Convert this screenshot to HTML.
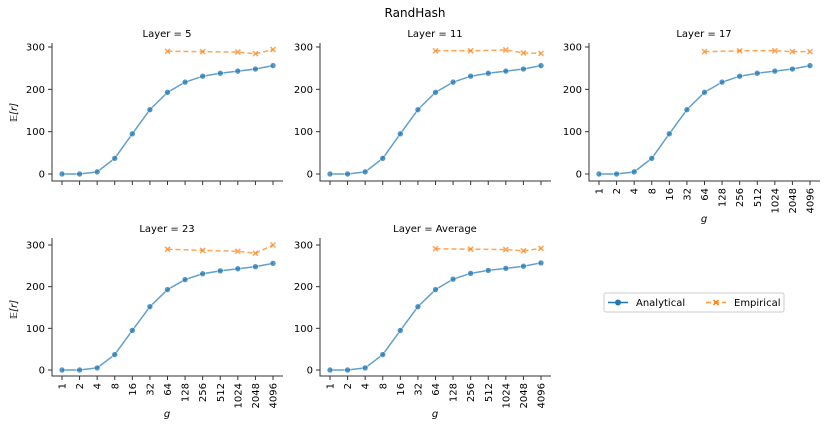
<!DOCTYPE html>
<html><head><meta charset="utf-8"><style>
body{margin:0;background:#fff}
svg{display:block;font-family:"DejaVu Sans","Liberation Sans",sans-serif}
</style></head><body>
<svg id="c" width="831" height="434"></svg>
<script>
const categories=["1","2","4","8","16","32","64","128","256","512","1024","2048","4096"];
const panelTitles=["Layer = 5","Layer = 11","Layer = 17","Layer = 23","Layer = Average"];
const analytical=[
[0,0,5,37,95,152,193,217,231,238,243,248,256],
[0,0,5,37,95,152,193,217,231,238,243,248,256],
[0,0,5,37,95,152,193,217,231,238,243,248,256],
[0,0,5,37,95,152,193,217,231,238,243,248,256],
[0,0,5,37,95,152,193,218,232,239,244,249,257]];
const empiricalIdx=[6,8,10,11,12];
const empirical=[
[290,289,288,284,294],
[291,291,293,286,285],
[289,291,291,289,289],
[290,287,285,280,300],
[291,290,289,286,292]];
const yTicks=[0,100,200,300];
const svg=document.getElementById('c');
const NS='http://www.w3.org/2000/svg';
function mk(t,a,txt){const e=document.createElementNS(NS,t);for(const k in a)e.setAttribute(k,a[k]);if(txt!==undefined)e.textContent=txt;svg.appendChild(e);return e;}
const t0=mk('text',{x:415,y:17,'text-anchor':'middle','font-size':12},'RandHash');


const colX=[52,320,589], rowY=[{b:181,y0:174,y300:47,top:43},{b:376,y0:370,y300:245,top:238}];
panelTitles.forEach((title,p)=>{
 const cx=colX[p%3], r=rowY[Math.floor(p/3)], row=Math.floor(p/3);
 const xs=i=>cx+10+i*(211/12);
 const ys=v=>r.y0+(r.y300-r.y0)*v/300;
 const tt=mk('text',{x:cx+115,y:r.top-6,'text-anchor':'middle','font-size':10},title);
 
 
 const ax=mk('path',{d:`M${cx},${r.top}V${r.b}H${cx+231}`,stroke:'#333',fill:'none','stroke-width':1});
 
 
 yTicks.forEach(v=>{
  mk('line',{x1:cx-4,x2:cx,y1:ys(v),y2:ys(v),stroke:'#333'});
  const l=mk('text',{x:cx-7,y:ys(v)+3.5,'text-anchor':'end','font-size':10},v);
  
  
 });
 if(p%3==0){
  const yl=mk('text',{x:0,y:0,transform:`translate(${cx-35},${(r.y0+r.y300)/2+2}) rotate(-90)`,'text-anchor':'middle','font-size':10,'font-style':'italic'},'𝔼[r]');
  
  
 }
 categories.forEach((c,i)=>{
  mk('line',{x1:xs(i),x2:xs(i),y1:r.b,y2:r.b+4,stroke:'#333'});
  if(row==1||p==2){
   const l=mk('text',{x:0,y:0,transform:`translate(${xs(i)+3.5},${r.b+7}) rotate(-90)`,'text-anchor':'end','font-size':10},c);
   
   
  }
 });
 if(row==1||p==2){
  const xl=mk('text',{x:cx+115,y:r.b+41,'text-anchor':'middle','font-size':10,'font-style':'italic'},'g');
  
  
 }
 const a=analytical[p];
 const la=mk('polyline',{points:a.map((v,i)=>xs(i)+','+ys(v)).join(' '),fill:'none',stroke:'#1f77b4','stroke-width':1.5,opacity:0.7});
 
 
 a.forEach((v,i)=>{const m=mk('circle',{cx:xs(i),cy:ys(v),r:3,fill:'#1f77b4',stroke:'#fff','stroke-width':0.6,opacity:0.75});
  
  });
 const e=empirical[p];
 const le=mk('polyline',{points:e.map((v,k)=>xs(empiricalIdx[k])+','+ys(v)).join(' '),fill:'none',stroke:'#ff7f0e','stroke-width':1.5,'stroke-dasharray':'5,3',opacity:0.7});
 
 
 e.forEach((v,k)=>{const x=xs(empiricalIdx[k]),y=ys(v);
  const m=mk('path',{d:`M${x-2.5},${y-2.5}L${x+2.5},${y+2.5}M${x-2.5},${y+2.5}L${x+2.5},${y-2.5}`,stroke:'#ff7f0e','stroke-width':1.5,opacity:0.7});
  
  });
});
const lg=mk('rect',{x:604,y:293,width:180,height:19,rx:2,fill:'#fff',stroke:'#ccc'});


mk('line',{x1:608,x2:628,y1:302.5,y2:302.5,stroke:'#1f77b4','stroke-width':1.5});
mk('circle',{cx:618,cy:302.5,r:3,fill:'#1f77b4'});
const l1=mk('text',{x:636,y:306,'font-size':10},'Analytical');


mk('line',{x1:706,x2:726,y1:302.5,y2:302.5,stroke:'#ff7f0e','stroke-width':1.5,'stroke-dasharray':'5,3',opacity:0.8});
mk('path',{d:'M713.5,300L718.5,305M713.5,305L718.5,300',stroke:'#ff7f0e','stroke-width':1.5});
const l2=mk('text',{x:734,y:306,'font-size':10},'Empirical');


</script>
</body></html>
